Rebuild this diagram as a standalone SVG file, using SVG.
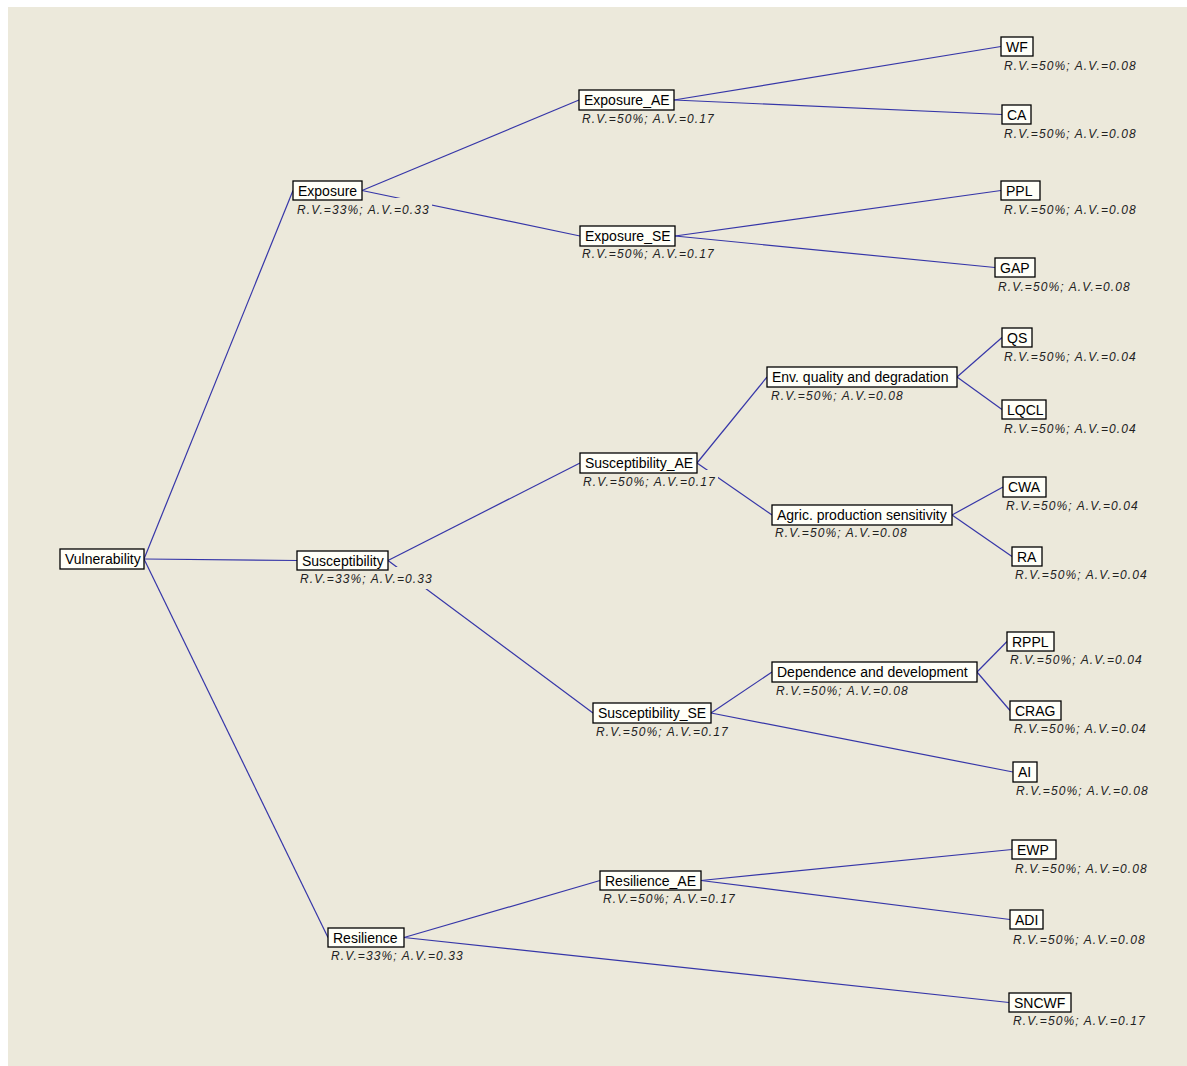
<svg xmlns="http://www.w3.org/2000/svg" width="1187" height="1066" viewBox="0 0 1187 1066">
<style>
.bg{fill:#ECE9DB}
.box{fill:#FFFFF8;stroke:#000;stroke-width:1.3}
.t{font-family:"Liberation Sans",Arial,sans-serif;font-size:14px;fill:#000}
.lb{font-family:"Liberation Sans",Arial,sans-serif;font-size:12px;font-style:italic;fill:#222;letter-spacing:1.1px}
.lbg{fill:#ECE9DB}
#connectors line{stroke:#3636A8;stroke-width:1.2}
</style>
<rect x="0" y="0" width="1187" height="1066" fill="#FFFFFF"/>
<rect class="bg" x="8" y="7" width="1179" height="1059"/>
<g id="connectors">
<line x1="144" y1="559" x2="293" y2="190.5"/>
<line x1="144" y1="559" x2="297" y2="560.5"/>
<line x1="144" y1="559" x2="328" y2="937.5"/>
<line x1="362" y1="190.5" x2="579" y2="100"/>
<line x1="362" y1="190.5" x2="580" y2="236"/>
<line x1="674" y1="100" x2="1001" y2="46.5"/>
<line x1="674" y1="100" x2="1002" y2="114.5"/>
<line x1="675" y1="236" x2="1001" y2="190.5"/>
<line x1="675" y1="236" x2="995" y2="267.5"/>
<line x1="388" y1="560.5" x2="580" y2="463"/>
<line x1="388" y1="560.5" x2="593" y2="713"/>
<line x1="697" y1="463" x2="767" y2="377"/>
<line x1="697" y1="463" x2="772" y2="515"/>
<line x1="957" y1="377" x2="1002" y2="337.5"/>
<line x1="957" y1="377" x2="1002" y2="409.5"/>
<line x1="952" y1="515" x2="1003" y2="487"/>
<line x1="952" y1="515" x2="1012" y2="556.5"/>
<line x1="711" y1="713" x2="772" y2="672"/>
<line x1="711" y1="713" x2="1013" y2="772"/>
<line x1="977" y1="672" x2="1007" y2="641.5"/>
<line x1="977" y1="672" x2="1010" y2="710.5"/>
<line x1="404" y1="937.5" x2="600" y2="880.5"/>
<line x1="404" y1="937.5" x2="1009" y2="1002.5"/>
<line x1="701" y1="880.5" x2="1012" y2="849.5"/>
<line x1="701" y1="880.5" x2="1010" y2="919.5"/>
</g>
<g id="n-vulnerability"><rect class="box" x="60" y="549" width="84" height="20"/><text class="t" x="65" y="564">Vulnerability</text></g>
<g id="n-exposure"><rect class="lbg" x="295" y="198" width="137" height="22"/><rect class="box" x="293" y="181" width="69" height="19"/><text class="t" x="298" y="196">Exposure</text><text class="lb" x="297" y="214">R.V.=33%; A.V.=0.33</text></g>
<g id="n-susceptibility"><rect class="lbg" x="298" y="567" width="137" height="22"/><rect class="box" x="297" y="551" width="91" height="19"/><text class="t" x="302" y="566">Susceptibility</text><text class="lb" x="300" y="583">R.V.=33%; A.V.=0.33</text></g>
<g id="n-resilience"><rect class="lbg" x="329" y="947" width="137" height="19"/><rect class="box" x="328" y="928" width="76" height="19"/><text class="t" x="333" y="943">Resilience</text><text class="lb" x="331" y="960">R.V.=33%; A.V.=0.33</text></g>
<g id="n-exposure-ae"><rect class="lbg" x="580" y="107" width="137" height="22"/><rect class="box" x="579" y="90" width="95" height="20"/><text class="t" x="584" y="105">Exposure_AE</text><text class="lb" x="582" y="123">R.V.=50%; A.V.=0.17</text></g>
<g id="n-exposure-se"><rect class="lbg" x="580" y="242" width="137" height="22"/><rect class="box" x="580" y="226" width="95" height="20"/><text class="t" x="585" y="241">Exposure_SE</text><text class="lb" x="582" y="258">R.V.=50%; A.V.=0.17</text></g>
<g id="n-susceptibility-ae"><rect class="lbg" x="581" y="470" width="137" height="22"/><rect class="box" x="580" y="453" width="117" height="20"/><text class="t" x="585" y="468">Susceptibility_AE</text><text class="lb" x="583" y="486">R.V.=50%; A.V.=0.17</text></g>
<g id="n-susceptibility-se"><rect class="lbg" x="594" y="720" width="137" height="22"/><rect class="box" x="593" y="703" width="118" height="20"/><text class="t" x="598" y="718">Susceptibility_SE</text><text class="lb" x="596" y="736">R.V.=50%; A.V.=0.17</text></g>
<g id="n-resilience-ae"><rect class="lbg" x="601" y="887" width="137" height="22"/><rect class="box" x="600" y="871" width="101" height="19"/><text class="t" x="605" y="886">Resilience_AE</text><text class="lb" x="603" y="903">R.V.=50%; A.V.=0.17</text></g>
<g id="n-env"><rect class="lbg" x="769" y="384" width="137" height="22"/><rect class="box" x="767" y="367" width="190" height="20"/><text class="t" x="772" y="382">Env. quality and degradation</text><text class="lb" x="771" y="400">R.V.=50%; A.V.=0.08</text></g>
<g id="n-agric"><rect class="lbg" x="773" y="521" width="137" height="22"/><rect class="box" x="772" y="505" width="180" height="20"/><text class="t" x="777" y="520">Agric. production sensitivity</text><text class="lb" x="775" y="537">R.V.=50%; A.V.=0.08</text></g>
<g id="n-dependence"><rect class="lbg" x="774" y="679" width="137" height="22"/><rect class="box" x="772" y="662" width="205" height="20"/><text class="t" x="777" y="677">Dependence and development</text><text class="lb" x="776" y="695">R.V.=50%; A.V.=0.08</text></g>
<g id="n-wf"><rect class="lbg" x="1002" y="54" width="137" height="22"/><rect class="box" x="1001" y="37" width="32" height="19"/><text class="t" x="1006" y="52">WF</text><text class="lb" x="1004" y="70">R.V.=50%; A.V.=0.08</text></g>
<g id="n-ca"><rect class="lbg" x="1002" y="122" width="137" height="22"/><rect class="box" x="1002" y="105" width="29" height="19"/><text class="t" x="1007" y="120">CA</text><text class="lb" x="1004" y="138">R.V.=50%; A.V.=0.08</text></g>
<g id="n-ppl"><rect class="lbg" x="1002" y="198" width="137" height="22"/><rect class="box" x="1001" y="181" width="39" height="19"/><text class="t" x="1006" y="196">PPL</text><text class="lb" x="1004" y="214">R.V.=50%; A.V.=0.08</text></g>
<g id="n-gap"><rect class="lbg" x="996" y="275" width="137" height="22"/><rect class="box" x="995" y="258" width="40" height="19"/><text class="t" x="1000" y="273">GAP</text><text class="lb" x="998" y="291">R.V.=50%; A.V.=0.08</text></g>
<g id="n-qs"><rect class="lbg" x="1002" y="345" width="137" height="22"/><rect class="box" x="1002" y="328" width="30" height="19"/><text class="t" x="1007" y="343">QS</text><text class="lb" x="1004" y="361">R.V.=50%; A.V.=0.04</text></g>
<g id="n-lqcl"><rect class="lbg" x="1002" y="417" width="137" height="22"/><rect class="box" x="1002" y="400" width="44" height="19"/><text class="t" x="1007" y="415">LQCL</text><text class="lb" x="1004" y="433">R.V.=50%; A.V.=0.04</text></g>
<g id="n-cwa"><rect class="lbg" x="1004" y="494" width="137" height="22"/><rect class="box" x="1003" y="477" width="43" height="20"/><text class="t" x="1008" y="492">CWA</text><text class="lb" x="1006" y="510">R.V.=50%; A.V.=0.04</text></g>
<g id="n-ra"><rect class="lbg" x="1013" y="563" width="137" height="22"/><rect class="box" x="1012" y="547" width="30" height="19"/><text class="t" x="1017" y="562">RA</text><text class="lb" x="1015" y="579">R.V.=50%; A.V.=0.04</text></g>
<g id="n-rppl"><rect class="lbg" x="1008" y="648" width="137" height="22"/><rect class="box" x="1007" y="632" width="47" height="19"/><text class="t" x="1012" y="647">RPPL</text><text class="lb" x="1010" y="664">R.V.=50%; A.V.=0.04</text></g>
<g id="n-crag"><rect class="lbg" x="1012" y="717" width="137" height="22"/><rect class="box" x="1010" y="701" width="51" height="19"/><text class="t" x="1015" y="716">CRAG</text><text class="lb" x="1014" y="733">R.V.=50%; A.V.=0.04</text></g>
<g id="n-ai"><rect class="lbg" x="1014" y="779" width="137" height="22"/><rect class="box" x="1013" y="762" width="24" height="20"/><text class="t" x="1018" y="777">AI</text><text class="lb" x="1016" y="795">R.V.=50%; A.V.=0.08</text></g>
<g id="n-ewp"><rect class="lbg" x="1013" y="857" width="137" height="22"/><rect class="box" x="1012" y="840" width="44" height="19"/><text class="t" x="1017" y="855">EWP</text><text class="lb" x="1015" y="873">R.V.=50%; A.V.=0.08</text></g>
<g id="n-adi"><rect class="lbg" x="1011" y="928" width="137" height="22"/><rect class="box" x="1010" y="910" width="33" height="19"/><text class="t" x="1015" y="925">ADI</text><text class="lb" x="1013" y="944">R.V.=50%; A.V.=0.08</text></g>
<g id="n-sncwf"><rect class="lbg" x="1011" y="1009" width="137" height="22"/><rect class="box" x="1009" y="993" width="62" height="19"/><text class="t" x="1014" y="1008">SNCWF</text><text class="lb" x="1013" y="1025">R.V.=50%; A.V.=0.17</text></g>
</svg>
